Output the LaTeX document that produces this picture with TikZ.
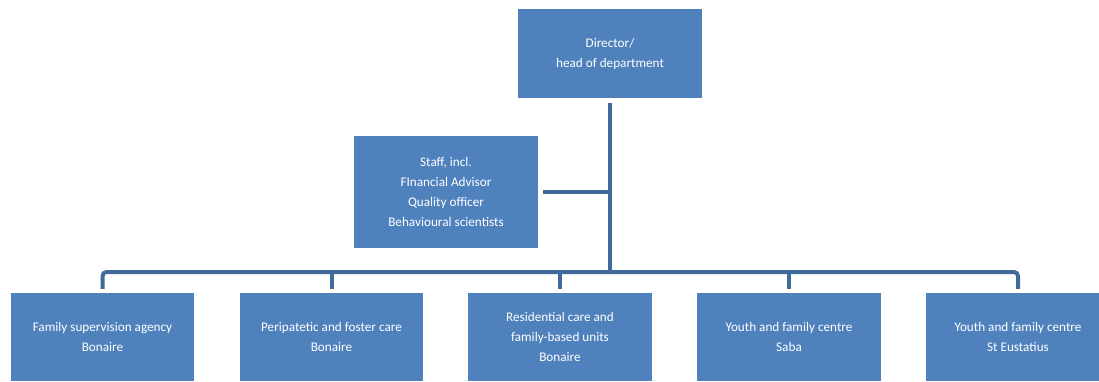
\documentclass[tikz,border=0pt]{standalone}
\usepackage{fontspec}
\setmainfont{Carlito}
\definecolor{boxblue}{HTML}{4F81BD}
\definecolor{lineblue}{HTML}{3F6A99}
\begin{document}
\begin{tikzpicture}[x=1pt,y=-1pt,
  orgbox/.style={fill=boxblue, draw=none, text=white, align=center, inner sep=0pt,
    font=\fontsize{13.2}{20}\selectfont},
  conn/.style={draw=lineblue, line width=4pt}]
\useasboundingbox (0,0) rectangle (1099,381);
\clip (0,0) rectangle (1099,381);
\node[orgbox, minimum width=184pt, minimum height=89pt] (dir) at (610,53.5) {Director/\\head of department};
\node[orgbox, minimum width=184pt, minimum height=112pt] (staff) at (446,192) {Staff, incl.\\FInancial Advisor\\Quality officer\\Behavioural scientists};
\node[orgbox, minimum width=183pt, minimum height=88pt] (b1) at (102.5,337) {Family supervision agency\\Bonaire};
\node[orgbox, minimum width=183pt, minimum height=88pt] (b2) at (331.5,337) {Peripatetic and foster care\\Bonaire};
\node[orgbox, minimum width=184pt, minimum height=88pt] (b3) at (560,337) {Residential care and\\family-based units\\Bonaire};
\node[orgbox, minimum width=184pt, minimum height=88pt] (b4) at (789,337) {Youth and family centre\\Saba};
\node[orgbox, minimum width=184pt, minimum height=88pt] (b5) at (1018,337) {Youth and family centre\\St Eustatius};
\coordinate (bus) at (0,272);
\draw[conn] ([yshift=-5pt]dir.south) -- (dir.south |- bus);
\draw[conn] ([xshift=5pt]staff.east) -- (dir.south |- staff.east);
\draw[conn, rounded corners=4pt] ([yshift=4pt]b1.north) |- (b5.north |- bus) -- ([yshift=4pt]b5.north);
\draw[conn] (b2.north |- bus) -- ([yshift=4pt]b2.north);
\draw[conn] (b3.north |- bus) -- ([yshift=4pt]b3.north);
\draw[conn] (b4.north |- bus) -- ([yshift=4pt]b4.north);
\end{tikzpicture}
\end{document}
